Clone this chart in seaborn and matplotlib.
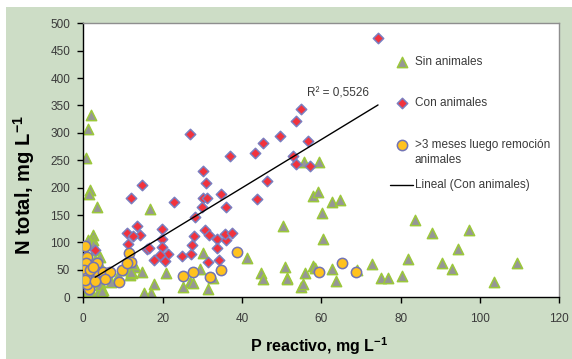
import numpy as np
import pandas as pd
import matplotlib
matplotlib.use('Agg')
import matplotlib.pyplot as plt
import seaborn as sns
from matplotlib.patches import Rectangle

# Sin animales (triangulos)
sin_p = [1.9, 1.2, 0.8, 1.8, 1.4, 3.5, 16.9,
         2.5, 2.4, 1.2, 2.4, 2.9, 0.4, 4.1, 2.9, 4.5, 1.6, 0.2, 0.2, 0.8, 2.4, 3.7, 5.0, 4.1,
         7.1, 8.7, 11.7, 0.1, 0.8, 4.2, 4.6, 10.5, 12.2, 13.0, 12.6, 1.0, 2.0, 3.0, 1.5, 6.0,
         30.1, 41.3, 50.3, 50.8, 51.3, 44.7, 45.2, 29.4, 26.9, 27.6, 25.1, 31.4, 17.9, 17.0,
         15.3, 14.9, 20.8, 12.0, 32.6, 54.8, 55.6, 59.5,
         57.9, 59.1, 62.6, 64.7, 60.3, 60.4, 51.4, 55.9, 55.3, 58.0, 58.4, 62.8, 63.7,
         83.5, 88.0, 97.3, 94.5, 81.9, 90.5, 92.9, 109.3, 103.5, 72.7, 80.4, 75.0, 76.7, 69.1]
sin_n = [332, 308, 254, 196, 188, 164, 162,
         114, 105, 105, 98, 86, 86, 74, 68, 56, 56, 41, 19, 7, 4, 7, 13, 28,
         28, 38, 41, 1, 0, 22, 12, 50, 44, 56, 60, 30, 45, 40, 12, 45,
         81, 71, 130, 55, 36, 44, 33, 51, 28, 26, 18, 16, 24, 7,
         7, 47, 44, 47, 35, 19, 246, 246,
         185, 192, 174, 177, 154, 106, 33, 44, 24, 58, 53, 52, 30,
         141, 117, 123, 89, 69, 62, 52, 62, 27, 61, 38, 35, 35, 50]

# Con animales (rombos)
con_p = [74.3, 27.0, 30.1, 37.0, 43.2, 45.3, 49.5, 53.6, 54.8, 56.6, 52.8, 53.6, 57.1, 46.3, 43.9,
         14.7, 12.0, 22.9, 31.0, 30.1, 31.3, 34.6, 36.1, 30.0, 28.2,
         11.0, 13.6, 14.3, 12.6, 11.3, 16.0, 16.6,
         19.8, 19.9, 19.8, 21.3, 19.3, 17.8, 20.7, 24.8, 27.1, 27.4, 27.9,
         30.7, 31.7, 31.4, 33.6, 33.8, 34.2, 36.1, 35.8, 37.5, 3.0]
con_n = [474, 298, 230, 257, 264, 281, 295, 322, 343, 285, 258, 243, 240, 212, 179,
         205, 181, 173, 208, 181, 181, 188, 164, 164, 147,
         117, 130, 114, 111, 97, 88, 90,
         124, 106, 92, 79, 77, 68, 67, 75, 79, 95, 111,
         123, 114, 64, 106, 90, 68, 104, 115, 117, 86]

# >3 meses luego remocion animales (circulos)
post_p = [0.4, 1.0, 0.7, 0.3, 0.8, 1.5, 3.5, 4.2, 3.4, 1.7, 5.0, 6.7, 5.5, 9.0, 9.7, 11.6,
          12.0, 10.9, 25.1, 27.6, 32.0, 34.8, 38.8, 59.5, 65.1, 68.7, 1.0, 2.5, 0.5, 3.0]
post_n = [94, 73, 63, 50, 36, 16, 63, 38, 47, 50, 47, 47, 33, 27, 50, 80,
          64, 62, 39, 47, 37, 50, 83, 47, 63, 47, 25, 55, 32, 30]

# linea de tendencia (Con animales)
trend_slope = 4.41
trend_intercept = 23.3
r2_label = 'R² = 0,5526'

legend_labels = ['Sin animales', 'Con animales', '>3 meses luego remoción\nanimales',
                 'Lineal (Con animales)']

x_ticks = list(range(0, 121, 20))
y_ticks = list(range(0, 501, 50))

sns.set_theme(style='white')
plt.rcParams['font.family'] = ['Liberation Sans', 'DejaVu Sans']
plt.rcParams['mathtext.fontset'] = 'custom'
plt.rcParams['mathtext.rm'] = 'Liberation Sans'
plt.rcParams['mathtext.bf'] = 'Liberation Sans:bold'

bg = '#CDDDC6'
tri_face, tri_edge = '#969696', '#9CC83A'
dia_face, dia_edge = '#F2323C', '#7A7FC0'
cir_face, cir_edge = '#FFC21E', '#7274B4'
txt = '#3A3A3A'

fig = plt.figure(figsize=(5.72, 3.59), dpi=100)
fig.patch.set_facecolor('white')
fig.add_artist(Rectangle((6 / 572, 0), 1, (359 - 7) / 359, transform=fig.transFigure,
                         facecolor=bg, edgecolor='none', zorder=-10))
ax = fig.add_axes([0.1456, 0.1719, 0.8322, 0.7632])
ax.set_facecolor('white')

sin_df = pd.DataFrame({'P': sin_p, 'N': sin_n})
con_df = pd.DataFrame({'P': con_p, 'N': con_n})
post_df = pd.DataFrame({'P': post_p, 'N': post_n})

sns.scatterplot(data=sin_df, x='P', y='N', marker='^', s=55, color=tri_face,
                edgecolor=tri_edge, linewidth=1.1, ax=ax, legend=False, zorder=2)
sns.scatterplot(data=con_df, x='P', y='N', marker='D', s=28, color=dia_face,
                edgecolor=dia_edge, linewidth=1.1, ax=ax, legend=False, zorder=3)
sns.scatterplot(data=post_df, x='P', y='N', marker='o', s=55, color=cir_face,
                edgecolor=cir_edge, linewidth=1.1, ax=ax, legend=False, zorder=4)

xs = np.array([con_df['P'].min(), con_df['P'].max()])
sns.lineplot(x=xs, y=trend_slope * xs + trend_intercept, color='black', linewidth=1,
             ax=ax, zorder=5)
ax.text(56.3, 371, r2_label, fontsize=8.5, color=txt, ha='left', va='center')

ax.set_xlim(0, 120)
ax.set_ylim(0, 500)
ax.set_xticks(x_ticks)
ax.set_yticks(y_ticks)
ax.tick_params(axis='both', direction='out', colors='black', labelcolor=txt,
               labelsize=8.5, length=4.5, width=1, left=True, bottom=True)
ax.tick_params(axis='x', pad=7)
ax.tick_params(axis='y', pad=5)

for s in ['left', 'bottom']:
    ax.spines[s].set_color('black')
    ax.spines[s].set_linewidth(1)
for s in ['top', 'right']:
    ax.spines[s].set_color('#8E8E8E')
    ax.spines[s].set_linewidth(1)

ax.set_xlabel(r'P reactivo, mg L$^{\mathbf{-1}}$', fontsize=11.5, fontweight='bold',
              color='black')
ax.set_ylabel(r'N total, mg L$^{\mathbf{-1}}$', fontsize=14.5, fontweight='bold',
              color='black')
ax.xaxis.set_label_coords(0.496, -0.138)
ax.yaxis.set_label_coords(-0.097, 0.41)

# leyenda a la derecha, dentro del area
mk_x, tx_x = 0.669, 0.6966
ys = [0.8577, 0.708, 0.5558, 0.4099]
ax.scatter([mk_x], [ys[0]], marker='^', s=55, color=tri_face, edgecolor=tri_edge,
           linewidth=1.1, transform=ax.transAxes, zorder=6, clip_on=False)
ax.scatter([mk_x], [ys[1]], marker='D', s=28, color=dia_face, edgecolor=dia_edge,
           linewidth=1.1, transform=ax.transAxes, zorder=6, clip_on=False)
ax.scatter([mk_x], [ys[2]], marker='o', s=55, color=cir_face, edgecolor=cir_edge,
           linewidth=1.1, transform=ax.transAxes, zorder=6, clip_on=False)
ax.plot([0.6443, 0.6933], [ys[3], ys[3]], color='black', linewidth=1,
        transform=ax.transAxes, zorder=6)
for i, lab in enumerate(legend_labels):
    if '\n' in lab:
        ax.text(tx_x, ys[i] + 0.022, lab, fontsize=8.5, color=txt, ha='left', va='top',
                linespacing=1.3, transform=ax.transAxes)
    else:
        ax.text(tx_x, ys[i], lab, fontsize=8.5, color=txt, ha='left', va='center',
                transform=ax.transAxes)

fig.savefig('out.png', dpi=100, facecolor=fig.get_facecolor())
